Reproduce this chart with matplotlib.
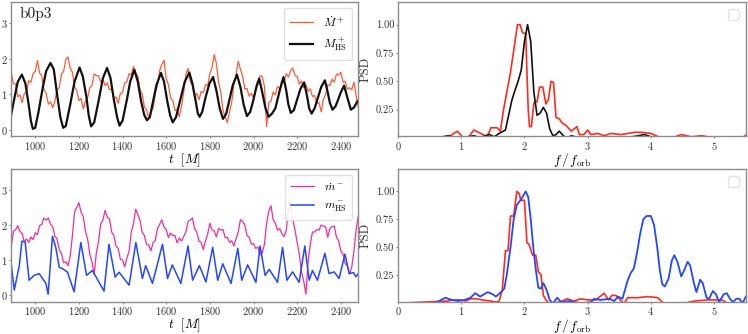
import numpy as np
import matplotlib
matplotlib.use('Agg')
import matplotlib.pyplot as plt

plt.rcParams['font.family'] = 'serif'
plt.rcParams['font.serif'] = ['cmr10', 'DejaVu Serif']
plt.rcParams['mathtext.fontset'] = 'cm'
plt.rcParams['axes.formatter.use_mathtext'] = True

#################
# top row data  #
#################
t_noisy = np.arange(890, 2481, 10)

mdot_plus = [1.62, 1.30, 1.28, 0.92, 0.98, 0.76, 1.02, 1.05, 1.38, 1.33,
             1.58, 1.64, 1.95, 1.60, 1.52, 1.12, 1.02, 0.72, 0.78, 0.62,
             0.80, 1.12, 1.18, 1.57, 1.64, 1.98, 2.05, 1.74, 1.62, 1.22,
             1.10, 0.82, 0.88, 0.58, 0.80, 0.90, 1.18, 1.24, 1.57, 1.52,
             1.52, 1.34, 1.42, 1.24, 1.32, 1.12, 1.16, 0.88, 0.92, 0.74,
             1.02, 1.04, 1.32, 1.35, 1.58, 1.54, 1.78, 1.60, 1.50, 1.13,
             1.00, 0.64, 0.56, 0.30, 0.50, 0.60, 1.02, 1.25, 1.66, 1.84,
             1.96, 1.44, 1.27, 0.90, 0.82, 0.54, 0.57, 0.36, 0.66, 1.05,
             1.56, 1.72, 1.36, 1.25, 0.94, 1.02, 0.84, 1.07, 1.04, 1.27,
             1.24, 1.58, 1.75, 2.12, 1.86, 1.34, 1.06, 0.54, 0.36, 0.20,
             0.50, 0.76, 1.27, 1.55, 1.93, 1.70, 1.52, 1.14, 1.16, 0.94,
             1.02, 0.90, 1.16, 1.26, 1.52, 1.50, 1.22, 0.08, 0.76, 0.80,
             1.06, 0.98, 1.22, 1.14, 1.37, 1.33, 1.58, 1.48, 1.66, 1.74,
             1.52, 1.50, 1.28, 1.37, 1.18, 1.26, 1.08, 1.15, 0.93, 0.96,
             0.74, 0.76, 0.50, 0.86, 0.98, 1.26, 1.24, 1.42, 1.34, 1.56,
             1.54, 1.62, 1.34, 1.36, 1.14, 1.18, 1.12, 1.34, 0.96, 0.62]

t_hs_plus = [890, 905, 920, 939, 955, 970, 980, 989, 1000, 1015, 1035, 1050, 1070, 1085,
             1100, 1115, 1128, 1140, 1160, 1180, 1203, 1218, 1235, 1245, 1256, 1270,
             1290, 1310, 1329, 1345, 1360, 1375, 1386, 1400, 1420, 1435, 1454, 1470,
             1485, 1500, 1512, 1525, 1540, 1555, 1576, 1590, 1605, 1618, 1630, 1645,
             1665, 1685, 1706, 1720, 1735, 1745, 1753, 1765, 1780, 1798, 1815, 1830,
             1845, 1860, 1875, 1890, 1905, 1924, 1940, 1955, 1970, 1985, 2000, 2015,
             2026, 2040, 2055, 2069, 2085, 2100, 2120, 2137, 2150, 2160, 2171, 2185,
             2200, 2215, 2232, 2245, 2255, 2266, 2280, 2295, 2310, 2327, 2340, 2350,
             2362, 2375, 2385, 2400, 2415, 2430, 2446, 2460, 2476]
m_hs_plus = [0.42, 0.90, 1.35, 1.55, 1.30, 0.70, 0.25, 0.02, 0.05, 0.50, 1.20, 1.65, 1.88, 1.70,
             1.00, 0.35, 0.05, 0.10, 0.70, 1.35, 1.75, 1.50, 0.90, 0.40, 0.09, 0.20,
             0.80, 1.45, 1.74, 1.45, 0.85, 0.35, 0.11, 0.25, 0.85, 1.35, 1.69, 1.35,
             0.80, 0.40, 0.26, 0.35, 0.80, 1.25, 1.60, 1.35, 0.80, 0.40, 0.20, 0.35,
             0.85, 1.35, 1.61, 1.30, 0.80, 0.45, 0.36, 0.50, 0.90, 1.30, 1.48, 1.10,
             0.60, 0.30, 0.45, 0.85, 1.25, 1.55, 1.20, 0.70, 0.38, 0.50, 0.85, 1.25,
             1.44, 1.05, 0.60, 0.36, 0.45, 0.60, 1.10, 1.48, 1.10, 0.70, 0.47, 0.55,
             0.85, 1.15, 1.33, 0.95, 0.60, 0.45, 0.60, 0.90, 1.20, 1.39, 1.05, 0.75,
             0.56, 0.65, 0.80, 1.05, 1.24, 0.90, 0.56, 0.62, 0.80]

f_red_top = [0.0, 0.75, 0.83, 0.94, 1.02, 1.12, 1.2, 1.31, 1.41, 1.47, 1.57, 1.62, 1.67, 1.73,
             1.78, 1.83, 1.89, 1.93, 1.97, 2.02, 2.06, 2.08, 2.11, 2.15, 2.2, 2.24, 2.29,
             2.34, 2.38, 2.42, 2.46, 2.5, 2.55, 2.6, 2.66, 2.74, 2.83, 2.87, 2.94, 3.0,
             3.05, 3.16, 3.26, 3.37, 3.53, 3.74, 3.85, 4.0, 4.16, 4.38, 4.48, 4.64, 4.8,
             5.0, 5.45, 5.51]
psd_red_top = [0.0, 0.0, 0.02, 0.06, 0.01, 0.01, 0.07, 0.04, 0.01, 0.09, 0.09, 0.06, 0.25, 0.43,
               0.58, 0.77, 1.0, 1.0, 0.93, 0.92, 0.25, 0.1, 0.1, 0.31, 0.32, 0.45, 0.45,
               0.3, 0.34, 0.5, 0.49, 0.18, 0.17, 0.13, 0.11, 0.06, 0.1, 0.03, 0.03, 0.07,
               0.03, 0.04, 0.02, 0.04, 0.03, 0.05, 0.05, 0.04, 0.0, 0.01, 0.03, 0.01, 0.02,
               0.0, 0.0, 0.03]

f_black_top = [0.0, 0.6, 0.7, 0.8, 0.9, 1.0, 1.1, 1.2, 1.3, 1.38, 1.45, 1.52, 1.6, 1.7, 1.75,
               1.8, 1.85, 1.9, 1.95, 2.0, 2.05, 2.1, 2.15, 2.2, 2.25, 2.3, 2.35, 2.4, 2.45,
               2.5, 2.55, 2.6, 2.65, 2.75, 2.85, 3.5, 3.7, 3.8, 3.9, 4.0, 4.1, 4.3, 4.4,
               4.5, 5.0, 5.5]
psd_black_top = [0.0, 0.0, 0.01, 0.02, 0.0, 0.0, 0.01, 0.02, 0.0, 0.02, 0.03, 0.01, 0.04, 0.07, 0.2,
                 0.33, 0.42, 0.5, 0.6, 0.85, 1.0, 0.85, 0.4, 0.2, 0.22, 0.27, 0.22, 0.08, 0.02,
                 0.03, 0.06, 0.03, 0.0, 0.02, 0.0, 0.0, 0.01, 0.02, 0.03, 0.01, 0.0, 0.0, 0.01,
                 0.0, 0.0, 0.0]

####################
# bottom row data  #
####################
mdot_minus = [1.36, 1.82, 1.86, 1.98, 1.82, 1.76, 1.52, 1.60, 1.50, 1.66,
              1.58, 1.78, 1.72, 1.98, 2.02, 2.20, 2.14, 2.20, 2.02, 1.95,
              1.68, 1.60, 1.30, 1.18, 0.92, 0.95, 0.84, 1.10, 1.68, 2.36,
              2.50, 2.64, 2.36, 2.24, 1.82, 1.60, 1.16, 0.95, 0.58, 1.20,
              1.54, 2.03, 2.14, 2.42, 2.22, 2.18, 1.80, 1.70, 1.40, 1.33,
              1.02, 0.99, 0.80, 1.06, 1.25, 1.80, 2.04, 2.45, 2.30, 2.13,
              1.79, 1.70, 1.44, 1.43, 1.26, 1.50, 1.56, 1.90, 2.02, 2.15,
              1.94, 1.87, 1.64, 1.77, 1.70, 1.70, 1.49, 1.63, 1.54, 1.67,
              1.80, 2.10, 2.14, 2.20, 1.90, 1.80, 1.54, 1.50, 1.30, 1.55,
              1.74, 2.05, 1.86, 1.83, 1.66, 1.90, 1.85, 1.87, 1.64, 1.65,
              1.50, 1.55, 1.40, 1.60, 1.80, 2.15, 2.10, 2.00, 1.70, 1.65,
              1.45, 1.47, 1.33, 1.37, 1.15, 1.20, 1.45, 2.05, 2.40, 2.55,
              2.15, 2.05, 1.85, 1.90, 1.75, 1.67, 1.85, 2.45, 2.62, 2.15,
              1.85, 1.50, 1.15, 0.65, 0.40, 0.02, 0.95, 1.45, 1.80, 1.80,
              1.87, 1.85, 2.00, 1.97, 1.95, 1.65, 1.90, 1.95, 1.97, 1.65,
              1.55, 1.25, 1.17, 0.90, 0.83, 0.60, 0.80, 1.25, 1.85, 2.25]

t_hs_minus = [890, 904, 927, 939, 954, 972, 995, 1018, 1049, 1059, 1079, 1094, 1110, 1125,
              1148, 1178, 1209, 1235, 1262, 1315, 1338, 1366, 1384, 1430, 1461, 1491,
              1506, 1537, 1583, 1606, 1628, 1667, 1700, 1721, 1752, 1782, 1813, 1836,
              1859, 1897, 1928, 1946, 1973, 2011, 2030, 2053, 2072, 2110, 2133, 2153,
              2179, 2209, 2235, 2255, 2270, 2293, 2327, 2346, 2369, 2392, 2419, 2438,
              2458, 2469, 2480]
m_hs_minus = [0.89, 0.14, 0.84, 1.54, 1.51, 0.42, 0.56, 0.61, 0.33, 0.02, 1.68, 1.36, 0.79, 0.75,
              0.65, 0.09, 1.50, 0.56, 0.70, 0.11, 1.45, 0.51, 0.65, 0.28, 1.50, 0.47,
              0.84, 0.33, 1.45, 0.47, 0.86, 0.33, 1.40, 0.42, 0.84, 0.37, 1.36, 0.42,
              0.89, 0.33, 1.33, 0.42, 0.86, 0.36, 1.40, 0.56, 0.73, 0.36, 1.36, 0.42,
              0.66, 0.36, 1.40, 0.42, 0.70, 0.42, 1.19, 0.61, 0.66, 0.47, 1.17, 0.61,
              0.64, 0.52, 0.61]

f_red_bot = [0.0, 0.78, 0.88, 0.99, 1.07, 1.15, 1.25, 1.33, 1.47, 1.55, 1.6, 1.65, 1.7, 1.74,
             1.78, 1.83, 1.88, 1.92, 1.94, 2.0, 2.04, 2.07, 2.13, 2.18, 2.22, 2.26, 2.3,
             2.34, 2.39, 2.55, 2.68, 2.78, 2.89, 3.0, 3.13, 3.26, 3.33, 3.38, 3.45, 3.53,
             3.58, 3.63, 3.79, 3.95, 4.11, 4.2, 4.53, 4.69, 4.9, 5.12, 5.22, 5.5]
psd_red_bot = [0.0, 0.02, 0.03, 0.03, 0.02, 0.04, 0.04, 0.03, 0.02, 0.01, 0.02, 0.12, 0.47, 0.47,
               0.78, 0.78, 1.0, 0.98, 0.92, 0.92, 0.54, 0.53, 0.43, 0.43, 0.28, 0.26, 0.07,
               0.03, 0.0, 0.01, 0.04, 0.02, 0.04, 0.03, 0.03, 0.09, 0.03, 0.07, 0.07, 0.02,
               0.0, 0.05, 0.05, 0.06, 0.05, 0.0, 0.0, 0.02, 0.03, 0.03, 0.0, 0.0]

f_blue_bot = [0.0, 0.55, 0.65, 0.75, 0.85, 0.95, 1.05, 1.15, 1.22, 1.3, 1.42, 1.5, 1.55, 1.63,
              1.68, 1.72, 1.78, 1.83, 1.88, 1.95, 2.02, 2.06, 2.1, 2.14, 2.18, 2.22, 2.26,
              2.3, 2.35, 2.4, 2.45, 2.52, 2.58, 2.7, 2.8, 2.9, 3.05, 3.1, 3.2, 3.35, 3.42,
              3.48, 3.55, 3.58, 3.63, 3.68, 3.73, 3.78, 3.83, 3.88, 3.93, 4.0, 4.05, 4.1,
              4.14, 4.18, 4.22, 4.28, 4.33, 4.37, 4.42, 4.48, 4.53, 4.58, 4.62, 4.68, 4.72,
              4.78, 4.82, 4.88, 4.92, 4.98, 5.03, 5.08, 5.15, 5.2, 5.25, 5.3, 5.35, 5.4,
              5.45, 5.5]
psd_blue_bot = [0.0, 0.0, 0.02, 0.05, 0.03, 0.02, 0.03, 0.05, 0.09, 0.06, 0.1, 0.08, 0.06, 0.1,
                0.13, 0.25, 0.5, 0.75, 0.88, 0.93, 1.0, 0.95, 0.75, 0.5, 0.3, 0.14, 0.13,
                0.18, 0.12, 0.03, 0.0, 0.05, 0.01, 0.02, 0.01, 0.0, 0.01, 0.04, 0.03, 0.04, 0.02,
                0.06, 0.04, 0.1, 0.2, 0.27, 0.31, 0.45, 0.62, 0.75, 0.78, 0.78, 0.7, 0.5,
                0.3, 0.17, 0.15, 0.22, 0.38, 0.43, 0.37, 0.24, 0.3, 0.37, 0.34, 0.18, 0.1,
                0.21, 0.18, 0.05, 0.04, 0.11, 0.08, 0.01, 0.08, 0.09, 0.04, 0.01, 0.04, 0.04,
                0.0, 0.06]

##########
# figure #
##########
fig = plt.figure(figsize=(7.48, 3.34), dpi=100)
ax1 = fig.add_axes([0.0150, 0.592, 0.4640, 0.402])
ax2 = fig.add_axes([0.532, 0.592, 0.465, 0.402])
ax3 = fig.add_axes([0.0150, 0.097, 0.4640, 0.397])
ax4 = fig.add_axes([0.532, 0.097, 0.465, 0.397])

edge = '#8c8c8c'
for ax in (ax1, ax2, ax3, ax4):
    for s in ax.spines.values():
        s.set_color(edge)
        s.set_linewidth(1.0)
    ax.tick_params(labelsize=7.5, labelcolor='#333333', length=1.5, width=0.8,
                   pad=1.2, color=edge)

# time series
ax1.plot(t_noisy, mdot_plus, color='#ff5a36', lw=0.9, label=r'$\dot M^+$')
ax1.plot(t_hs_plus, m_hs_plus, color='#111111', lw=1.6, label=r'$M^+_{\rm HS}$')
ax1.text(0.025, 0.88, 'b0p3', transform=ax1.transAxes, fontsize=11, color='#222222')

ax3.plot(t_noisy, mdot_minus, color='#f22c9b', lw=0.9, label=r'$\dot m^-$')
ax3.plot(t_hs_minus, m_hs_minus, color='#2546ff', lw=1.1, label=r'$m^-_{\rm HS}$')

for ax in (ax1, ax3):
    ax.set_xlim(890, 2480)
    ax.set_ylim(-0.19, 3.6)
    ax.set_yticks([0, 1, 2, 3])
    ax.set_xticks([1000, 1200, 1400, 1600, 1800, 2000, 2200, 2400])
    ax.set_xlabel(r'$t\ \ [M]$', fontsize=9.5, labelpad=-0.5)
    ax.legend(loc='upper right', fontsize=8.5, handlelength=2.0, borderpad=0.5,
              labelspacing=0.6, handletextpad=0.8, framealpha=0.9, edgecolor='#dddddd')

# PSDs
ax2.plot(f_red_top, psd_red_top, color='#ff2a1f', lw=1.2)
ax2.plot(f_black_top, psd_black_top, color='#111111', lw=1.2)
ax4.plot(f_red_bot, psd_red_bot, color='#ff2a1f', lw=1.2)
ax4.plot(f_blue_bot, psd_blue_bot, color='#2546ff', lw=1.3)

for ax in (ax2, ax4):
    ax.set_xlim(0, 5.5)
    ax.set_ylim(0.015, 1.2)
    ax.set_yticks([0.25, 0.5, 0.75, 1.0])
    ax.set_yticklabels(['0.25', '0.50', '0.75', '1.00'])
    ax.set_xticks([0, 1, 2, 3, 4, 5])
    ax.set_xlabel(r'$f\,/\,f_{\rm orb}$', fontsize=9.5, labelpad=-0.5)
    ax.set_ylabel('PSD', fontsize=9, color='#333333', labelpad=3)
    ax.legend(handles=[], loc='upper right', edgecolor='#dddddd')

fig.savefig('out.png', dpi=100)
